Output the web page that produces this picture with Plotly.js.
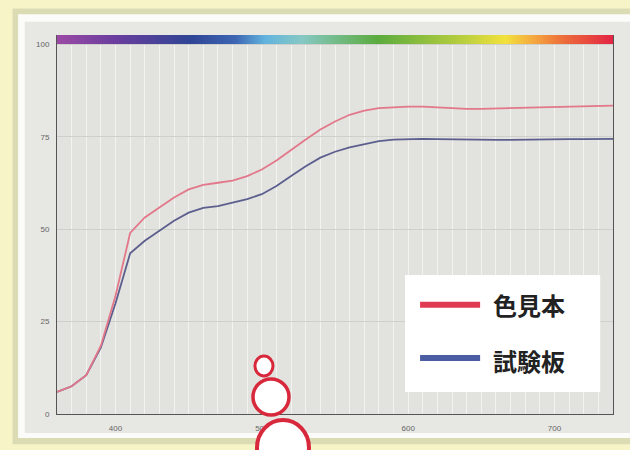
<!DOCTYPE html>
<html>
<head>
<meta charset="utf-8">
<script src="https://cdn.plot.ly/plotly-3.0.1.min.js"></script>
<style>html,body{margin:0;padding:0;background:#f7f5c8;}#chart{width:630px;height:450px;}</style>
</head>
<body>
<div id="chart"></div>
<script>
// Wavelength (nm)
const wavelengths = [360,370,380,390,400,410,420,430,440,450,460,470,480,490,500,510,520,530,540,550,560,570,580,590,600,610,620,630,640,650,660,670,680,690,700,710,720,730,740];
// 色見本 (colour sample) reflectance %
const sampleValues = [6,7.5,10.5,18.5,32,49,53.2,55.9,58.6,60.8,62,62.6,63.2,64.4,66.2,68.6,71.5,74.3,77,79.2,81,82.1,82.8,83.1,83.2,83.2,83,82.7,82.6,82.6,82.7,82.9,83,83,83.1,83.1,83.2,83.3,83.5];
// 試験板 (test panel) reflectance %
const panelValues = [6,7.5,10.5,18,30,43.5,46.9,49.6,52.3,54.5,55.8,56.3,57.2,58.2,59.5,61.7,64.4,67.1,69.4,71,72.2,73.1,73.9,74.3,74.5,74.5,74.4,74.3,74.3,74.2,74.2,74.2,74.3,74.3,74.4,74.4,74.4,74.5,74.5];
const seriesNames = ['色見本','試験板'];
const xTicks = [400,500,600,700];
const yTicks = [0,25,50,75,100];

const spectrumScale = [
  [0,'#9b4aa5'],[0.105,'#6a3e9e'],[0.24,'#2f4595'],[0.32,'#3d66b3'],[0.374,'#62b4de'],
  [0.44,'#86c8c4'],[0.576,'#5cab3e'],[0.73,'#b9cf3e'],[0.805,'#f2e13c'],[0.858,'#f5a640'],
  [0.913,'#ec6a3a'],[1,'#e32444']
];

const traces = [
  {type:'heatmap', x:wavelengths, y:[100.2,101.4,102.6], z:[wavelengths,wavelengths],
   colorscale:spectrumScale, zmin:360, zmax:740, zsmooth:'best', showscale:false, hoverinfo:'skip'},
  {type:'scatter', mode:'lines', x:wavelengths, y:panelValues, name:seriesNames[1],
   line:{color:'#5c5f8e', width:1.8}},
  {type:'scatter', mode:'lines', x:wavelengths, y:sampleValues, name:seriesNames[0],
   line:{color:'#e2788a', width:1.8}}
];

function circ(x0,y0,x1,y1,w){return {type:'circle',xref:'paper',yref:'paper',x0:x0,y0:y0,x1:x1,y1:y1,
  line:{color:'#d8283c',width:w},fillcolor:'#ffffff',layer:'above'};}

const layout = {
  width:630, height:450,
  margin:{l:57, r:17, t:35, b:36},
  paper_bgcolor:'#f7f5c8',
  plot_bgcolor:'rgba(0,0,0,0)',
  showlegend:false,
  font:{family:'Liberation Sans, Arial, sans-serif', size:8, color:'#666'},
  xaxis:{range:[360,740], tickvals:xTicks, ticktext:xTicks.map(String), ticks:'',
    showgrid:true, gridcolor:'#f3f3f1', gridwidth:1,
    minor:{dtick:10, tick0:360, showgrid:true, gridcolor:'#f3f3f1', gridwidth:1},
    showline:true, linecolor:'#555', linewidth:1, zeroline:false, ticklabelstandoff:6, fixedrange:true},
  yaxis:{range:[0,102.6], tickvals:yTicks, ticktext:yTicks.map(String), ticks:'',
    showgrid:true, gridcolor:'#cfcfcb', gridwidth:1,
    showline:true, linecolor:'#555', linewidth:1, mirror:true, zeroline:false, ticklabelstandoff:5, fixedrange:true},
  shapes:[
    // shadow & panel frame
    {type:'rect',xref:'paper',yref:'paper',x0:-0.08,x1:1.05,y0:-0.08,y1:1.07,fillcolor:'#dcdcb4',line:{width:0},layer:'below'},
    {type:'rect',xref:'paper',yref:'paper',x0:-0.07,x1:1.05,y0:-0.063,y1:1.055,fillcolor:'#fbfbf9',line:{width:0},layer:'below'},
    {type:'rect',xref:'paper',yref:'paper',x0:-0.058,x1:1.05,y0:-0.05,y1:1.035,fillcolor:'#e7e7e3',line:{width:0},layer:'below'},
    {type:'rect',xref:'paper',yref:'paper',x0:0,x1:1,y0:0,y1:1,fillcolor:'#e2e2de',line:{width:0},layer:'below'},
    // legend box
    {type:'rect',xref:'paper',yref:'paper',x0:0.626,x1:0.977,y0:0.058,y1:0.367,fillcolor:'#ffffff',line:{width:0},layer:'above'},
    {type:'line',xref:'paper',yref:'paper',x0:0.653,x1:0.761,y0:0.288,y1:0.288,line:{color:'#e03a52',width:6},layer:'above'},
    {type:'line',xref:'paper',yref:'paper',x0:0.653,x1:0.761,y0:0.148,y1:0.148,line:{color:'#4b5ea3',width:6},layer:'above'},
    // red circle marks
    circ(0.356,0.1003,0.3885,0.153,3),
    circ(0.3525,-0.0026,0.4173,0.0923,3.5),
    circ(0.3597,-0.161,0.4532,-0.0158,4)
  ],
  annotations:[
    {xref:'paper',yref:'paper',x:0.78,y:0.288,xanchor:'left',yanchor:'middle',text:'<b>'+seriesNames[0]+'</b>',showarrow:false,
     font:{family:'Noto Sans CJK JP',size:24,color:'#222'}},
    {xref:'paper',yref:'paper',x:0.78,y:0.14,xanchor:'left',yanchor:'middle',text:'<b>'+seriesNames[1]+'</b>',showarrow:false,
     font:{family:'Noto Sans CJK JP',size:24,color:'#222'}}
  ]
};

Plotly.newPlot('chart', traces, layout, {displayModeBar:false, staticPlot:true});
</script>
</body>
</html>
